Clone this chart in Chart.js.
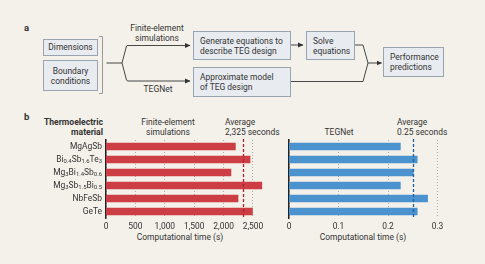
<!DOCTYPE html>
<html>
<head>
<meta charset="utf-8">
<script src="https://cdn.jsdelivr.net/npm/chart.js@4"></script>
<style>
  html, body { margin: 0; padding: 0; }
  body { width: 485px; height: 264px; background: #f4f1ea; position: relative; overflow: hidden;
         font-family: Roboto, sans-serif; color: #333; font-size: 8.45px; }
  .t { position: absolute; white-space: nowrap; line-height: 10px; transform: translateY(-50%); }
  .c { transform: translate(-50%, -50%); text-align: center; }
  .r { transform: translate(-100%, -50%); text-align: right; }
  .b { font-weight: bold; font-size: 8.6px; }
  .lt { font-weight: bold; font-size: 9.5px; }
  .box { position: absolute; box-sizing: border-box; border: 1px solid #9aa3b0; background: #e8ebf0;
         line-height: 10px; display: flex; align-items: center; padding-left: 6px; white-space: nowrap; }
  .box.mid { justify-content: center; text-align: center; padding-left: 0; }
  svg { position: absolute; left: 0; top: 0; }
  canvas { position: absolute; }
</style>
</head>
<body>

<!-- panel a -->
<svg width="485" height="110">
  <defs>
    <marker id="arr" markerWidth="6" markerHeight="6" refX="5" refY="3" orient="auto" markerUnits="userSpaceOnUse">
      <path d="M0,0.5 L5.5,3 L0,5.5 Z" fill="#333"/>
    </marker>
  </defs>
  <g fill="none" stroke="#999" stroke-width="1">
    <path d="M99,36.5 H102.5 V93.5 H99"/>
  </g>
  <g fill="none" stroke="#333" stroke-width="0.9">
    <path d="M106.5,63 H122"/>
    <path d="M122,63 L126.5,46 Q127,45.5 128,45.5 H190" marker-end="url(#arr)"/>
    <path d="M122,63 L126.5,80 Q127,81 128,81 H190" marker-end="url(#arr)"/>
    <path d="M290.5,45 H303" marker-end="url(#arr)"/>
    <path d="M355,45 H363 L368,63"/>
    <path d="M290.5,81.5 H363 L368,63"/>
    <path d="M368,63 H381.5" marker-end="url(#arr)"/>
  </g>
</svg>

<div class="t lt" style="left:24px;top:27.7px">a</div>
<div class="box mid" style="left:43px;top:39px;width:55px;height:16.5px">Dimensions</div>
<div class="box mid" style="left:43px;top:60px;width:55px;height:31px">Boundary<br>conditions</div>
<div class="t c" style="left:157px;top:32.7px">Finite-element<br>simulations</div>
<div class="t c" style="left:158px;top:89.3px">TEGNet</div>
<div class="box" style="left:193px;top:31px;width:98px;height:29px">Generate equations to<br>describe TEG design</div>
<div class="box" style="left:193px;top:67px;width:98px;height:30px">Approximate model<br>of TEG design</div>
<div class="box" style="left:306px;top:31px;width:49px;height:29px">Solve<br>equations</div>
<div class="box" style="left:383px;top:47px;width:61px;height:30px">Performance<br>predictions</div>

<!-- panel b headers -->
<div class="t lt" style="left:24px;top:116.7px">b</div>
<div class="t r b" style="left:103px;top:126.7px">Thermoelectric<br>material</div>
<div class="t c" style="left:168px;top:126.7px">Finite-element<br>simulations</div>
<div class="t" style="left:225px;top:126.7px">Average<br>2,325 seconds</div>
<div class="t c" style="left:339px;top:131.7px">TEGNet</div>
<div class="t" style="left:397px;top:126.7px">Average<br>0.25 seconds</div>
<div class="t c" style="left:180px;top:236.7px">Computational time (s)</div>
<div class="t c" style="left:363px;top:236.7px">Computational time (s)</div>

<canvas id="feChart" style="left:0px;top:130px;width:270px;height:105px"></canvas>
<canvas id="netChart" style="left:280px;top:130px;width:170px;height:105px"></canvas>

<script>
// data
const materials = ['MgAgSb', 'Bi_{0.4}Sb_{1.6}Te_{3}', 'Mg_{3}Bi_{1.4}Sb_{0.6}', 'Mg_{3}Sb_{1.5}Bi_{0.5}', 'NbFeSb', 'GeTe'];
const feTimes = [2200, 2450, 2125, 2650, 2245, 2490];
const netTimes = [0.225, 0.259, 0.251, 0.225, 0.280, 0.259];
const feAverage = 2325;
const netAverage = 0.25;
const feTicks = [0, 500, 1000, 1500, 2000, 2500];
const netTicks = [0, 0.1, 0.2, 0.3];

const FONT = 'Roboto, sans-serif';
Chart.defaults.font.family = FONT;
Chart.defaults.font.size = 8.45;
Chart.defaults.color = '#333';

// draws the average as a dashed vertical line
const avgLine = {
    id: 'avgLine',
    afterDatasetsDraw(chart, args, opts) {
        const {ctx, chartArea: a, scales: {x}} = chart;
        const px = Math.round(x.getPixelForValue(opts.value)) + 0.5;
        ctx.save();
        ctx.strokeStyle = opts.color;
        ctx.lineWidth = 1.3;
        ctx.setLineDash([3, 2]);
        ctx.beginPath();
        ctx.moveTo(px, a.top - 1);
        ctx.lineTo(px, a.bottom + 1);
        ctx.stroke();
        ctx.restore();
    }
};

// category labels with subscripts
const subLabels = {
    id: 'subLabels',
    afterDraw(chart, args, opts) {
        if (!opts.show) return;
        const {ctx, chartArea: a, scales: {y}} = chart;
        const big = '8.45px ' + FONT, small = '5.9px ' + FONT;
        ctx.save();
        ctx.fillStyle = '#333';
        ctx.textBaseline = 'middle';
        ctx.textAlign = 'left';
        materials.forEach((lab, i) => {
            const parts = lab.split(/_\{([^}]*)\}/);
            let w = 0;
            parts.forEach((p, k) => { ctx.font = k % 2 ? small : big; w += ctx.measureText(p).width; });
            let xp = a.left - 4 - w;
            const yp = y.getPixelForValue(i);
            parts.forEach((p, k) => {
                ctx.font = k % 2 ? small : big;
                ctx.fillText(p, xp, k % 2 ? yp + 2.2 : yp);
                xp += ctx.measureText(p).width;
            });
        });
        ctx.restore();
    }
};

function makeChart(id, values, color, avg, avgColor, ticks, max, fmt, axisWidth, padRight, labels) {
    return new Chart(document.getElementById(id), {
        type: 'bar',
        data: {
            labels: materials,
            datasets: [{ data: values, backgroundColor: color, barThickness: 7 }]
        },
        options: {
            indexAxis: 'y',
            responsive: false, animation: false,
            layout: { padding: { top: 10, right: padRight, left: 0, bottom: 0 } },
            plugins: {
                legend: { display: false }, tooltip: { enabled: false },
                avgLine: { value: avg, color: avgColor },
                subLabels: { show: labels }
            },
            scales: {
                x: {
                    min: 0, max: max,
                    afterBuildTicks: s => { s.ticks = ticks.map(v => ({ value: v })); },
                    afterFit: s => { s.height = 17; },
                    ticks: { padding: 4, maxRotation: 0, callback: v => fmt(v) },
                    grid: { color: '#9a9a9a', lineWidth: 0.8, drawTicks: false },
                    border: { display: false, dash: [1, 2] }
                },
                y: {
                    afterFit: s => { s.width = axisWidth; },
                    ticks: { display: false },
                    grid: { display: false },
                    border: { display: true, color: '#222', width: 1.5 }
                }
            }
        },
        plugins: [avgLine, subLabels]
    });
}

makeChart('feChart', feTimes, '#cd3e44', feAverage, '#a8242c', feTicks, 2750,
    v => v.toLocaleString('en-US'), 106, 2.3, true);
makeChart('netChart', netTimes, '#4b93cf', netAverage, '#1f5f9e', netTicks, 0.32,
    v => v === 0 ? '0' : v.toFixed(1), 9, 2.6, false);
</script>
</body>
</html>
